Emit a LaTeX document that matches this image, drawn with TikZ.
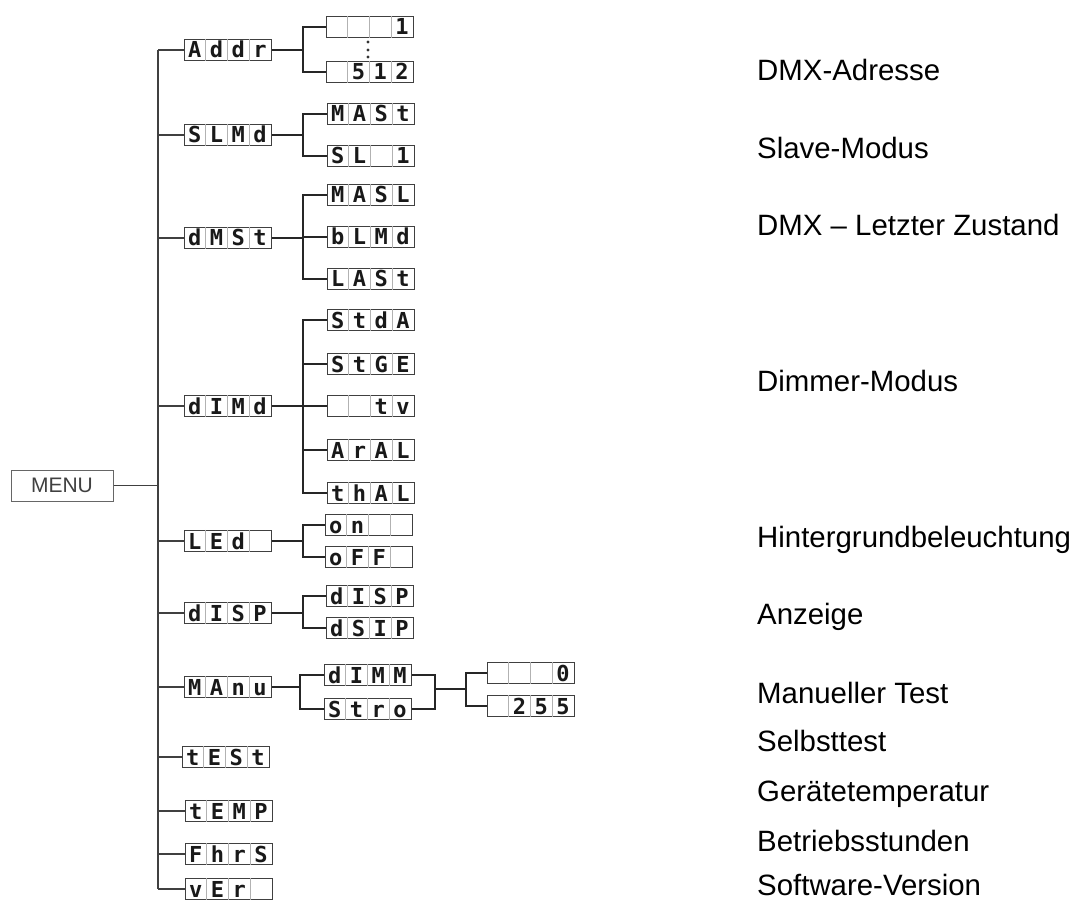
\documentclass[tikz,border=0pt]{standalone}
\usepackage{fontspec}
\setmainfont{Liberation Sans}
\newfontfamily\segfont{DejaVu Sans Mono}
\usetikzlibrary{calc}

\tikzset{
  lcd/.style={draw=black!75, line width=1.5pt, fill=white, minimum width=87pt, minimum height=21pt, inner sep=0pt},
  seg/.style={font=\segfont\bfseries\fontsize{22}{22}\selectfont, text=black!90, inner sep=0pt, anchor=base},
  cell/.style={draw=black!30, line width=0.8pt},
  fork/.style={draw=black!85, line width=2.2pt},
  twig/.style={draw=black!75, line width=1.1pt},
  note/.style={anchor=base west, inner sep=0pt, font=\fontsize{29.4}{30}\selectfont}
}

\newcommand{\dispbox}[3]{%
  \node[lcd] (#1) at (#2) {};
  \foreach \i in {1,2,3}
    \draw[cell] ($(#1.north west)+(\i*21.75,0)$) -- ($(#1.south west)+(\i*21.75,0)$);
  \foreach \c [count=\i] in {#3}
    \node[seg] at ($(#1.west)+(\i*21.75-10.875,8)$) {\c};
}

\begin{document}
\begin{tikzpicture}[x=1pt, y=-1pt]
    \clip (0,0) rectangle (1073,901);
    \fill[white] (0,0) rectangle (1073,901);

    \node[draw=black!60, line width=1pt, minimum width=102pt, minimum height=31pt,
          font=\fontsize{21}{21}\selectfont, text=black!75] (menu) at (62,485.5) {MENU};
    \coordinate (trunk) at (158,0);

    \dispbox{addr}{228,50}{A,d,d,r}
    \dispbox{slmd}{228,135}{S,L,M,d}
    \dispbox{dmst}{228,238}{d,M,S,t}
    \dispbox{dimd}{228,406}{d,I,M,d}
    \dispbox{led}{228,541}{L,E,d,{}}
    \dispbox{disp}{228,613}{d,I,S,P}
    \dispbox{manu}{228,687}{M,A,n,u}
    \dispbox{test}{226,757}{t,E,S,t}
    \dispbox{temp}{229,811}{t,E,M,P}
    \dispbox{fhrs}{229,854}{F,h,r,S}
    \dispbox{ver}{229,889}{v,E,r,{}}

    \dispbox{a1}{370,27}{{},{},{},1}
    \dispbox{a512}{370,72}{{},5,1,2}
    \dispbox{mast}{371,114}{M,A,S,t}
    \dispbox{slone}{371,156}{S,L,{},1}
    \dispbox{masl}{371,195}{M,A,S,L}
    \dispbox{blmd}{371,237}{b,L,M,d}
    \dispbox{last}{371,279}{L,A,S,t}
    \dispbox{stda}{371,320}{S,t,d,A}
    \dispbox{stge}{371,364}{S,t,G,E}
    \dispbox{tv}{371,406}{{},{},t,v}
    \dispbox{aral}{371,450}{A,r,A,L}
    \dispbox{thal}{371,493}{t,h,A,L}
    \dispbox{on}{369,525}{o,n,{},{}}
    \dispbox{off}{369,557}{o,F,F,{}}
    \dispbox{dispa}{370,596}{d,I,S,P}
    \dispbox{dispb}{370,628}{d,S,I,P}
    \dispbox{dimm}{368,675}{d,I,M,M}
    \dispbox{stro}{368,709}{S,t,r,o}
    \dispbox{vzero}{531,673}{{},{},{},0}
    \dispbox{vmax}{531,706}{{},2,5,5}

    \fill[black!80] (368,42) circle (1.6) (368,50) circle (1.6) (368,57) circle (1.6);

    \draw[twig] (menu.east) -- (menu.east -| trunk);
    \draw[twig] (trunk |- addr.west) -- (trunk |- ver.west);
    \foreach \n in {addr,slmd,dmst,dimd,led,disp,manu,test,temp,fhrs,ver}
        \draw[twig] (trunk |- \n.west) -- (\n.west);

    \foreach \k in {a1,a512}
        \draw[fork] (addr.east) -- ++(31,0) |- (\k.west);
    \foreach \k in {mast,slone}
        \draw[fork] (slmd.east) -- ++(31,0) |- (\k.west);
    \foreach \k in {masl,blmd,last}
        \draw[fork] (dmst.east) -- ++(31,0) |- (\k.west);
    \foreach \k in {stda,stge,tv,aral,thal}
        \draw[fork] (dimd.east) -- ++(31,0) |- (\k.west);
    \foreach \k in {on,off}
        \draw[fork] (led.east) -- ++(31,0) |- (\k.west);
    \foreach \k in {dispa,dispb}
        \draw[fork] (disp.east) -- ++(31,0) |- (\k.west);
    \foreach \k in {dimm,stro}
        \draw[fork] (manu.east) -- ++(28,0) |- (\k.west);

    \coordinate (join) at (435,689);
    \draw[fork] (dimm.east) -| (join) |- (stro.east);
    \draw[fork] (join) -- ++(31,0) coordinate (fan) |- (vzero.west);
    \draw[fork] (fan) |- (vmax.west);

    \node[note] at (757,81) {DMX-Adresse};
    \node[note] at (757,159) {Slave-Modus};
    \node[note] at (757,236) {DMX – Letzter Zustand};
    \node[note] at (757,391) {Dimmer-Modus};
    \node[note] at (757,547) {Hintergrundbeleuchtung};
    \node[note] at (757,624) {Anzeige};
    \node[note] at (757,703) {Manueller Test};
    \node[note] at (757,751) {Selbsttest};
    \node[note] at (757,801) {Gerätetemperatur};
    \node[note] at (757,851) {Betriebsstunden};
    \node[note] at (757,895) {Software-Version};
\end{tikzpicture}
\end{document}
